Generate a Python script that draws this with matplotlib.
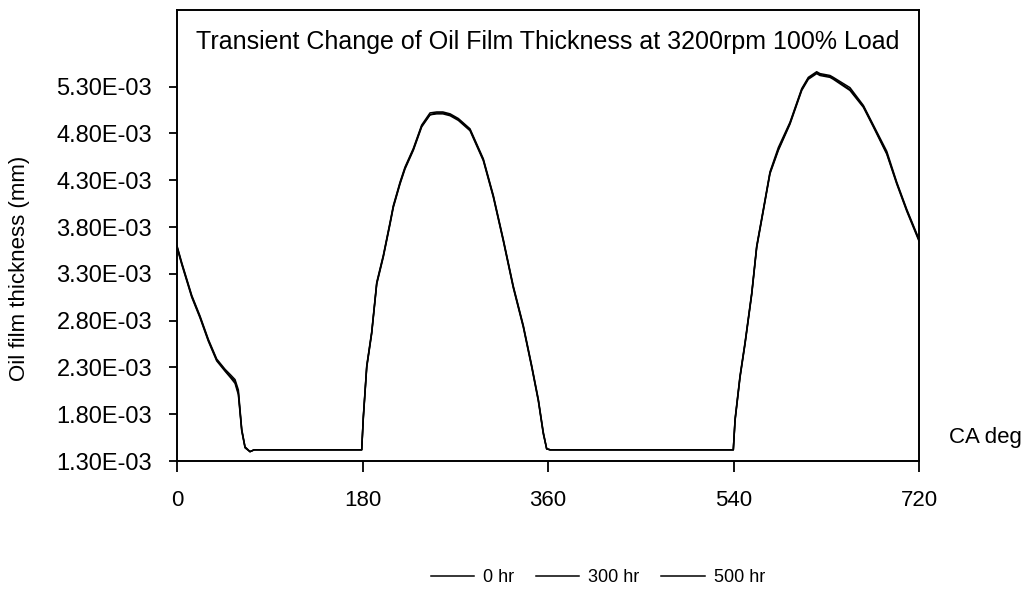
"""
Transient change of oil film thickness at 3200 rpm, 100% load.
Three ageing states (0 / 300 / 500 hr) over one 720 deg crank cycle.
Writes out.png
"""

import numpy as np
import matplotlib
matplotlib.use("Agg")
import matplotlib.pyplot as plt
from matplotlib.ticker import FuncFormatter

plt.rcParams["font.family"] = ["Liberation Sans", "DejaVu Sans"]

# crank angle (deg) and film thickness (1e-3 mm)
ca_deg = [0, 4.6, 14.3, 22.3, 30.4, 38.5, 46.6, 52, 56.3, 59.5,
          62.8, 66.0, 70.8, 75, 120, 178, 179.2, 180.8, 184.1, 188.9,
          193.8, 200.2, 206.7, 209.9, 216.4, 221.2, 229.3, 237.4, 245.5, 252,
          258, 265, 273.0, 284.3, 297.2, 306.9, 316.6, 326.3, 336.0, 344.2,
          350.6, 355.4, 358.7, 362, 450, 539.8, 541.5, 546.3, 551.2, 557.7,
          562.5, 568.9, 575.4, 583.5, 594.8, 606.2, 612.6, 620.7, 623.9, 633.6,
          636.8, 653.0, 666.0, 675.7, 688.7, 698.4, 708.1, 720]

thk_0hr = [3.59, 3.41, 3.06, 2.84, 2.59, 2.38, 2.27, 2.20, 2.15, 2.03,
           1.63, 1.45, 1.40, 1.42, 1.42, 1.42, 1.42, 1.77, 2.31, 2.67,
           3.20, 3.49, 3.84, 4.02, 4.27, 4.43, 4.63, 4.88, 5.00, 5.02,
           5.02, 5.00, 4.95, 4.84, 4.52, 4.13, 3.66, 3.16, 2.74, 2.31,
           1.95, 1.60, 1.43, 1.42, 1.42, 1.42, 1.74, 2.20, 2.56, 3.09,
           3.59, 3.98, 4.38, 4.63, 4.91, 5.27, 5.39, 5.45, 5.43, 5.41,
           5.39, 5.27, 5.09, 4.88, 4.59, 4.27, 3.98, 3.66]

thk_300hr = [3.60, 3.42, 3.07, 2.85, 2.60, 2.39, 2.28, 2.22, 2.17, 2.06,
             1.64, 1.45, 1.40, 1.42, 1.42, 1.42, 1.42, 1.78, 2.32, 2.68,
             3.21, 3.50, 3.85, 4.03, 4.28, 4.44, 4.64, 4.89, 5.02, 5.03,
             5.03, 5.01, 4.96, 4.85, 4.53, 4.14, 3.67, 3.17, 2.75, 2.32,
             1.96, 1.61, 1.43, 1.42, 1.42, 1.42, 1.75, 2.21, 2.57, 3.10,
             3.60, 3.99, 4.39, 4.65, 4.92, 5.28, 5.40, 5.46, 5.44, 5.42,
             5.40, 5.29, 5.10, 4.89, 4.61, 4.28, 3.99, 3.67]

thk_500hr = [3.58, 3.40, 3.05, 2.83, 2.58, 2.37, 2.26, 2.19, 2.13, 2.01,
             1.62, 1.44, 1.40, 1.42, 1.42, 1.42, 1.42, 1.76, 2.30, 2.66,
             3.19, 3.48, 3.83, 4.01, 4.26, 4.42, 4.62, 4.87, 5.00, 5.01,
             5.01, 4.99, 4.94, 4.83, 4.51, 4.12, 3.65, 3.15, 2.73, 2.30,
             1.94, 1.59, 1.43, 1.42, 1.42, 1.42, 1.73, 2.19, 2.55, 3.08,
             3.58, 3.97, 4.37, 4.62, 4.90, 5.26, 5.38, 5.44, 5.42, 5.40,
             5.38, 5.26, 5.08, 4.87, 4.58, 4.26, 3.97, 3.65]

series = {"0 hr": thk_0hr, "300 hr": thk_300hr, "500 hr": thk_500hr}
x_ticks = [0, 180, 360, 540, 720]
y_ticks = [1.30e-3, 1.80e-3, 2.30e-3, 2.80e-3, 3.30e-3, 3.80e-3, 4.30e-3, 4.80e-3, 5.30e-3]


def main():
    fig = plt.figure(figsize=(10.25, 5.94), dpi=100)
    ax = fig.add_axes([0.1727, 0.2239, 0.7239, 0.7593])

    for name, vals in series.items():
        ax.plot(ca_deg, np.array(vals) * 1e-3, color="black", lw=1.1, label=name)

    ax.set_xlim(0, 720)
    ax.set_ylim(1.30e-3, 6.12e-3)
    ax.set_xticks(x_ticks)
    ax.set_yticks(y_ticks)
    ax.yaxis.set_major_formatter(FuncFormatter(lambda v, p: f"{v:.2E}"))
    ax.tick_params(axis="x", direction="out", length=8, width=1.3, pad=13, labelsize=16)
    ax.tick_params(axis="y", direction="out", length=6, width=1.3, pad=12, labelsize=17)
    for s in ax.spines.values():
        s.set_linewidth(1.4)

    ax.text(0.5, 0.929, "Transient Change of Oil Film Thickness at 3200rpm 100% Load",
            transform=ax.transAxes, ha="center", va="center", fontsize=18)

    fig.text(20 / 1025, 1 - 268 / 594, "Oil film thickness (mm)", rotation=90,
             ha="center", va="center", fontsize=16)
    fig.text(985 / 1025, 1 - 437 / 594, "CA deg", ha="center", va="center", fontsize=16)

    fig.legend(loc="center", bbox_to_anchor=(598 / 1025, 1 - 578 / 594), ncol=3,
               frameon=False, fontsize=13, handlelength=2.4, handletextpad=0.5,
               columnspacing=1.2)

    fig.savefig("out.png", dpi=100)
    plt.close(fig)


if __name__ == "__main__":
    main()
